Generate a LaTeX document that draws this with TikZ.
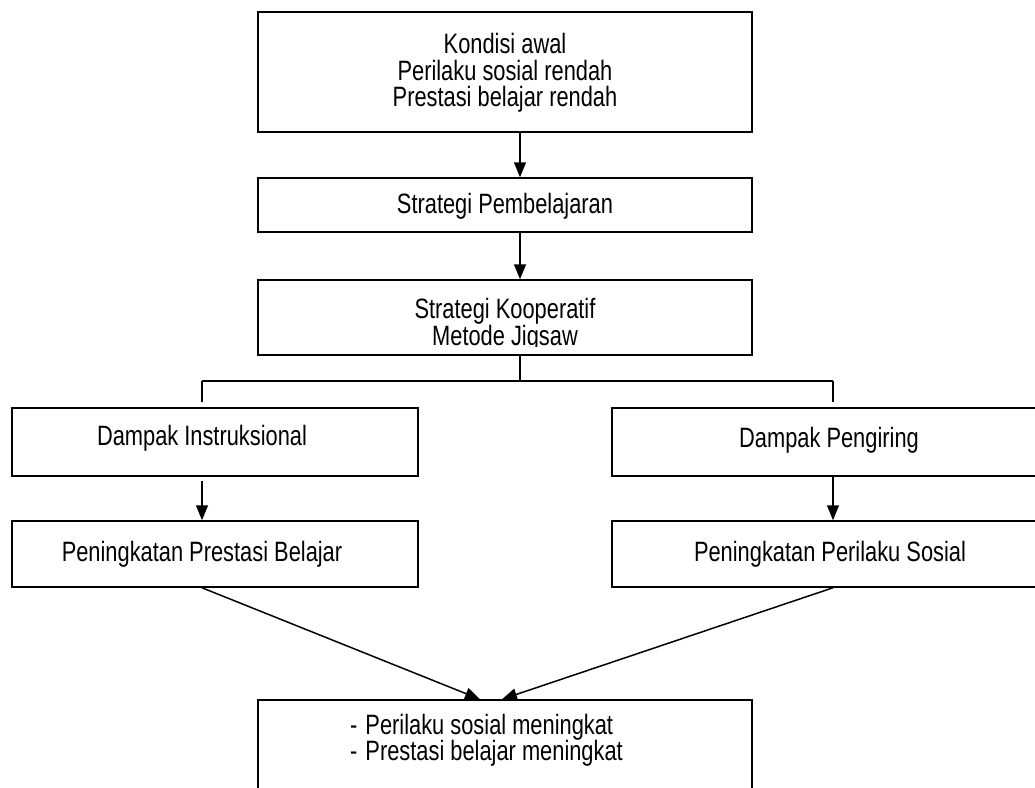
\documentclass[tikz,border=0pt]{standalone}
\usepackage{fontspec}
\setmainfont{Liberation Sans}[FakeStretch=0.78]
\usetikzlibrary{arrows.meta}
\begin{document}
\begin{tikzpicture}[x=1pt,y=-1pt,
  box/.style={draw=black,line width=1.5pt,rectangle,inner sep=0pt},
  txt/.style={anchor=base,inner sep=0pt,font=\fontsize{28}{26.5}\selectfont},
  ln/.style={draw=black,line width=1.5pt},
  arr/.style={ln,-{Triangle[width=12pt,length=15pt]}}]
\useasboundingbox (0,0) rectangle (1035,787);
\clip (0,0) rectangle (1035,787);
% boxes
\node[box,minimum width=494pt,minimum height=120pt] (top) at (505,72) {};
\node[box,minimum width=494pt,minimum height=54pt] (strat) at (505,205) {};
\node[box,minimum width=494pt,minimum height=75pt] (koop) at (505,317.5) {};
\node[box,minimum width=406pt,minimum height=68pt] (di) at (215,442) {};
\node[box,minimum width=438pt,minimum height=68pt] (dp) at (831,442) {};
\node[box,minimum width=406pt,minimum height=66pt] (pb) at (215,554) {};
\node[box,minimum width=438pt,minimum height=66pt] (ps) at (831,554) {};
\node[box,minimum width=494pt,minimum height=110pt] (bot) at (505,755) {};
% texts
\node[txt] (t1) at (505,53) {Kondisi awal};
\node[txt] (t2) at (505,80) {Perilaku sosial rendah};
\node[txt] (t3) at (505,106) {Prestasi belajar rendah};
\node[txt] (t4) at (505,213) {Strategi Pembelajaran};
\node[txt] (t5) at (505,318) {Strategi Kooperatif};
\begin{scope}
\clip (258,281) rectangle (752,346.5);
\node[txt] (t6) at (505,345) {Metode Jigsaw};
\end{scope}
\node[txt] (t7) at (202,445) {Dampak Instruksional};
\node[txt] (t8) at (829,447) {Dampak Pengiring};
\node[txt] (t9) at (202,561) {Peningkatan Prestasi Belajar};
\node[txt] (t10) at (830,561) {Peningkatan Perilaku Sosial};
\node[txt,anchor=base west] (t11) at (350,734) {-\hspace{8pt}Perilaku sosial meningkat};
\node[txt,anchor=base west] (t12) at (350,760) {-\hspace{8pt}Prestasi belajar meningkat};
% coordinates
\coordinate (cx) at (520,0);
\coordinate (lx) at (202,0);
\coordinate (rx) at (833,0);
\coordinate (by) at (0,381);
\coordinate (bl) at (480,0);
\coordinate (br) at (502,0);
% connectors
\draw[arr] (top.south -| cx) -- (strat.north -| cx);
\draw[arr] (strat.south -| cx) -- (koop.north -| cx);
\draw[ln] (koop.south -| cx) -- (cx |- by);
\draw[ln] (lx |- by) -- (rx |- by);
\draw[ln,shorten >=5pt] (lx |- by) -- (di.north -| lx);
\draw[ln,shorten >=5pt] (rx |- by) -- (dp.north -| rx);
\draw[arr,shorten <=4pt] (di.south -| lx) -- (pb.north -| lx);
\draw[arr] (dp.south -| rx) -- (ps.north -| rx);
\draw[arr] (pb.south -| lx) -- (bot.north -| bl);
\draw[arr] (ps.south -| rx) -- (bot.north -| br);
\end{tikzpicture}
\end{document}
